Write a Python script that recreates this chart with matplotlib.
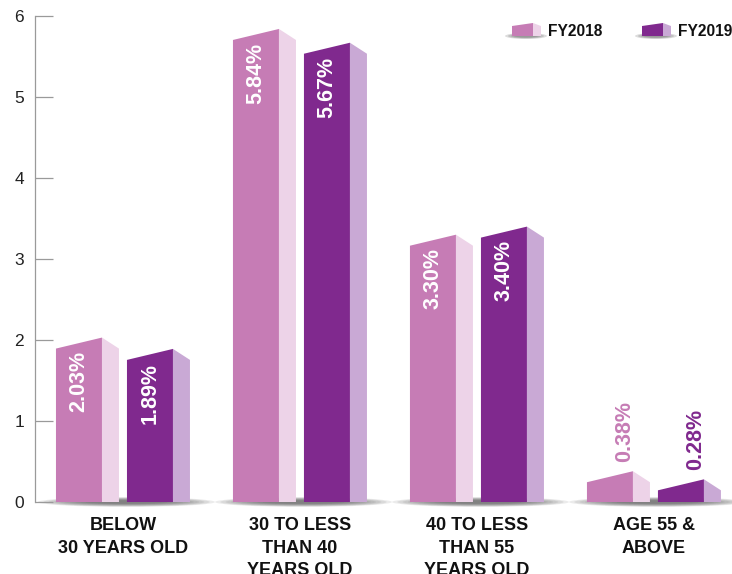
import matplotlib
matplotlib.use('Agg')
import matplotlib.pyplot as plt
from matplotlib.patches import Polygon, Ellipse

categories = ["BELOW\n30 YEARS OLD", "30 TO LESS\nTHAN 40\nYEARS OLD",
              "40 TO LESS\nTHAN 55\nYEARS OLD", "AGE 55 &\nABOVE"]
series_names = ["FY2018", "FY2019"]
fy2018 = [2.03, 5.84, 3.30, 0.38]
fy2019 = [1.89, 5.67, 3.40, 0.28]
yticks = [0, 1, 2, 3, 4, 5, 6]

front_colors = ["#C67CB5", "#80298E"]
side_colors = ["#EDD3E8", "#C9A9D5"]

plt.rcParams['font.family'] = ['Liberation Sans', 'DejaVu Sans']

FW, FH = 732, 574
fig = plt.figure(figsize=(FW / 100, FH / 100), dpi=100)
ax = fig.add_axes([35 / FW, 72 / FH, 697 / FW, 486 / FH])
ax.set_xlim(-0.497, 3.441)
ax.set_ylim(0, 6)

W = 46 / 177     # front face width
D = 17 / 177     # side depth
S = 11 / 81      # slant drop
offsets = [-67 / 177, 4 / 177]

# shadows under each group
for i in range(len(categories)):
    for k in range(10):
        e = Ellipse((i + 0.02, 0.0), 1.0 - k * 0.06, 0.12 - k * 0.009,
                    facecolor='#444444', edgecolor='none', alpha=0.1,
                    zorder=1, clip_on=False)
        ax.add_patch(e)

for s, vals in enumerate([fy2018, fy2019]):
    for i, v in enumerate(vals):
        xl = i + offsets[s]
        xr = xl + W
        front = Polygon([(xl, 0), (xl, v - S), (xr, v), (xr, 0)], closed=True,
                        facecolor=front_colors[s], edgecolor='none', zorder=3, clip_on=False)
        side = Polygon([(xr, 0), (xr, v), (xr + D, v - S), (xr + D, 0)], closed=True,
                       facecolor=side_colors[s], edgecolor='none', zorder=3, clip_on=False)
        ax.add_patch(front)
        ax.add_patch(side)
        label = f"{v:.2f}%"
        if v > 1:
            ax.text(xl + W / 2, v - 0.17, label, rotation=90, ha='center', va='top',
                    color='white', fontsize=15.5, fontweight='bold', zorder=4)
        else:
            ax.text(xl + W / 2 + 0.085, v + 0.11, label, rotation=90, ha='center',
                    va='bottom', color=front_colors[s], fontsize=15.5,
                    fontweight='bold', zorder=4)

for i, cat in enumerate(categories):
    ax.text(i, -0.19, cat, ha='center', va='top', fontsize=13, fontweight='bold',
            color='#111111', linespacing=1.42, clip_on=False)

for sp in ['top', 'right', 'bottom']:
    ax.spines[sp].set_visible(False)
ax.spines['left'].set_color('#9A9A9A')
ax.spines['left'].set_linewidth(0.9)
ax.set_xticks([])
ax.set_yticks(yticks)
ax.set_yticklabels([str(t) for t in yticks])
ax.tick_params(axis='y', direction='in', length=13, width=0.9, color='#9A9A9A',
               pad=8, labelsize=12.5, labelcolor='#222222')

# legend drawn as small 3D boxes
def px(x, y):
    return (x / FW, 1 - y / FH)

for s, name in enumerate(series_names):
    dx = s * 130
    for k in range(4):
        sh = Ellipse(px(526 + dx, 36), (42 - k * 6) / FW, (6 - k) / FH,
                     transform=fig.transFigure, facecolor='#555555',
                     edgecolor='none', alpha=0.2)
        fig.add_artist(sh)
    fr = Polygon([px(512 + dx, 36), px(512 + dx, 26), px(533 + dx, 23), px(533 + dx, 36)],
                 closed=True, transform=fig.transFigure, facecolor=front_colors[s],
                 edgecolor='none')
    sd = Polygon([px(533 + dx, 36), px(533 + dx, 23), px(541 + dx, 26), px(541 + dx, 36)],
                 closed=True, transform=fig.transFigure, facecolor=side_colors[s],
                 edgecolor='none')
    fig.add_artist(fr)
    fig.add_artist(sd)
    fig.text(*px(548 + dx, 31), name, ha='left', va='center', fontsize=11.2,
             fontweight='bold', color='#111111')

fig.savefig('out.png', dpi=100)
